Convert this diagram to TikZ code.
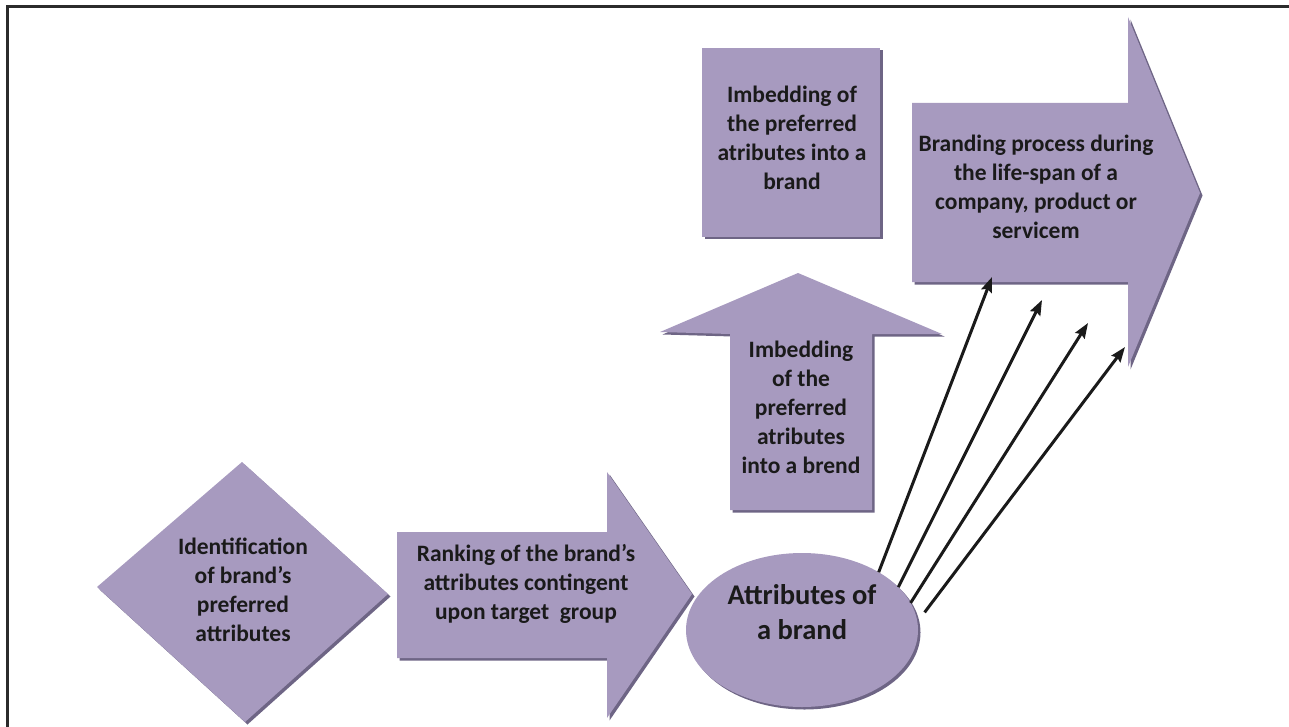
\documentclass[tikz,border=0pt]{standalone}
\usepackage{fontspec}
\setmainfont{Carlito}
\usetikzlibrary{arrows.meta,shapes.geometric,shadows}
\definecolor{lilac}{HTML}{A79ABF}
\definecolor{lilacdark}{HTML}{6E6585}
\definecolor{ink}{HTML}{1A1A1A}
\definecolor{rule}{HTML}{2B2B2B}

\begin{document}
\begin{tikzpicture}[x=1pt,y=-1pt,
  blob/.style={fill=lilac,drop shadow={shadow xshift=2.5pt,shadow yshift=-2.5pt,opacity=1,fill=lilacdark}},
  txt/.style={font=\bfseries\fontsize{23.5}{29}\selectfont,text=ink,align=center,inner sep=0pt},
  link/.style={line width=3pt,ink,-{Stealth[length=15pt,width=11pt,inset=2pt]}}]
  \useasboundingbox (0,0) rectangle (1289,727);
  \draw[rule,line width=3pt] (7,727) -- (7,7) -- (1289,7);

  % shapes
  \fill[blob] (242,462) -- (388,594) -- (245,722) -- (97,587) -- cycle;
  \fill[blob] (397,532) -- (607,532) -- (607,472) -- (692,594) -- (607,718) -- (607,658) -- (397,658) -- cycle;
  \node[blob,ellipse,minimum width=232pt,minimum height=154pt,inner sep=0pt,outer sep=0pt] (attr) at (802,630) {};
  \fill[blob] (798,273) -- (942,334) -- (872,334) -- (872,510) -- (730,510) -- (730,334) -- (660,332) -- cycle;
  \fill[blob] (702,48) rectangle (880,237);
  \fill[blob] (912,103) -- (1128,103) -- (1128,17) -- (1200,193) -- (1128,367) -- (1128,282) -- (912,282) -- cycle;

  % texts
  \node[txt] (ident) at (243,590) {Identification\\of brand’s\\preferred\\attributes};
  \node[txt] (rank) at (526,584) {Ranking of the brand’s\\attributes contingent\\upon target\ \ group};
  \node[txt,font=\bfseries\fontsize{28.5}{35}\selectfont] (attrtxt) at (802,612) {Attributes of\\a brand};
  \node[txt] (imbup) at (801,407) {Imbedding\\of the\\preferred\\atributes\\into a brend};
  \node[txt] (imbbox) at (792,138) {Imbedding of\\the preferred\\atributes into a\\brand};
  \node[txt] (process) at (1036,187) {Branding process during\\the life-span of a\\company, product or\\servicem};

  % arrows into the process
  \coordinate (h1) at (992,277);
  \coordinate (h2) at (1042,300);
  \coordinate (h3) at (1088,323);
  \coordinate (h4) at (1125,347);
  \draw[link] (attr.37) -- (h1);
  \draw[link] (attr.24) -- (h2);
  \draw[link] (attr.14) -- (h3);
  \draw[link,shorten <=12pt] (attr.4) -- (h4);
\end{tikzpicture}
\end{document}
